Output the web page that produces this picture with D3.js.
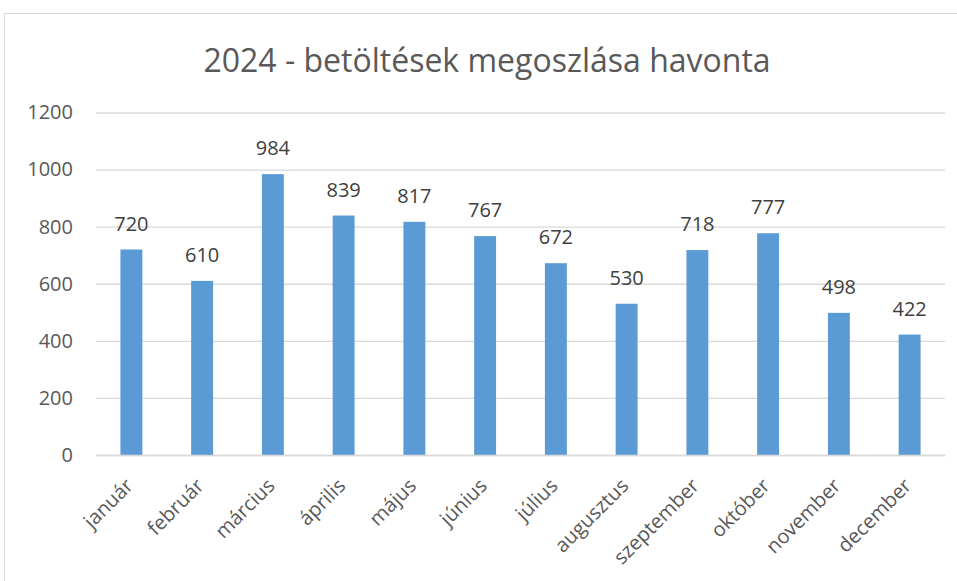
<!DOCTYPE html>
<html lang="hu">
<head>
<meta charset="UTF-8">
<script src="https://d3js.org/d3.v7.min.js"></script>
<style>
  body { margin: 0; background: #fff; }
  svg { display: block; font-family: "Open Sans", "Liberation Sans", sans-serif; }
</style>
</head>
<body>
<script>
// data
const months = ["január", "február", "március", "április", "május", "június",
                "július", "augusztus", "szeptember", "október", "november", "december"];
const values = [720, 610, 984, 839, 817, 767, 672, 530, 718, 777, 498, 422];
const yTicks = [0, 200, 400, 600, 800, 1000, 1200];

const w = 957, h = 581;
const plotLeft = 96, plotRight = 945, plotTop = 112.5, plotBottom = 455;
const font = '"Open Sans", "Liberation Sans", sans-serif';

const svg = d3.select("body").append("svg")
  .attr("width", w)
  .attr("height", h);

// chart border
svg.append("rect")
  .attr("x", 4.5).attr("y", 13.5)
  .attr("width", 960).attr("height", 580)
  .attr("fill", "none")
  .attr("stroke", "#d9d9d9");

// title
svg.append("text")
  .attr("x", 487).attr("y", 72)
  .attr("text-anchor", "middle")
  .attr("font-size", 32)
  .attr("fill", "#595959")
  .text("2024 - betöltések megoszlása havonta");

const x = d3.scaleBand().domain(months).range([plotLeft, plotRight]).paddingInner(0.69).paddingOuter(0.345);
const y = d3.scaleLinear().domain([0, 1200]).range([plotBottom, plotTop]);

// gridlines + y labels
const yAxis = d3.axisLeft(y).tickValues(yTicks).tickFormat(d3.format("d"))
  .tickSize(-(plotRight - plotLeft)).tickPadding(23);
const gy = svg.append("g").attr("transform", `translate(${plotLeft},0)`).call(yAxis)
  .attr("font-family", font);
gy.select(".domain").remove();
gy.selectAll(".tick line").attr("stroke", "#d9d9d9").attr("stroke-width", 1.3);
gy.selectAll(".tick text").attr("fill", "#595959").attr("font-size", 20);

// bars
svg.selectAll("rect.bar")
  .data(values)
  .enter()
  .append("rect")
  .attr("class", "bar")
  .attr("x", (d, i) => x(months[i]))
  .attr("y", d => y(d))
  .attr("width", x.bandwidth())
  .attr("height", d => plotBottom - y(d))
  .attr("fill", "#5b9bd5");

// value labels
svg.selectAll("text.val")
  .data(values)
  .enter()
  .append("text")
  .attr("class", "val")
  .attr("x", (d, i) => x(months[i]) + x.bandwidth() / 2)
  .attr("y", d => y(d) - 19)
  .attr("text-anchor", "middle")
  .attr("font-size", 20)
  .attr("fill", "#404040")
  .text(d => d);

// x axis
const xAxis = d3.axisBottom(x).tickSize(0).tickPadding(0);
const gx = svg.append("g").attr("transform", `translate(0,${plotBottom})`).call(xAxis)
  .attr("font-family", font);
gx.select(".domain").attr("stroke", "#d9d9d9").attr("stroke-width", 1.3);
gx.selectAll(".tick text")
  .attr("fill", "#595959")
  .attr("font-size", 20)
  .attr("text-anchor", "end")
  .attr("dy", 0)
  .attr("transform", "translate(3,32) rotate(-45)");
</script>
</body>
</html>
